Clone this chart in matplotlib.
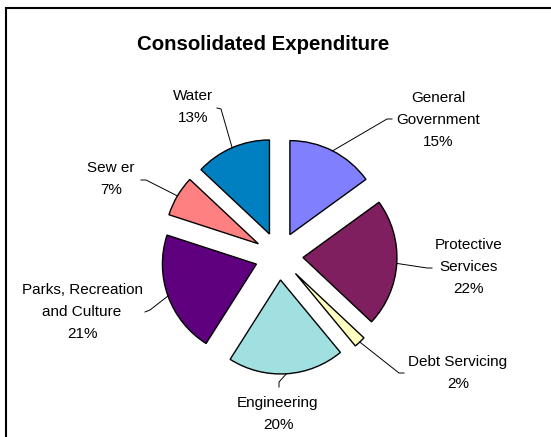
import matplotlib
matplotlib.use('Agg')
import numpy as np
import matplotlib.pyplot as plt

# Chart data
categories = ['General\nGovernment', 'Protective\nServices', 'Debt Servicing', 'Engineering',
              'Parks, Recreation\nand Culture', 'Sew er', 'Water']
shares = [15, 22, 2, 20, 21, 7, 13]
colors = ['#8080FF', '#7F1F5F', '#FFFFC0', '#A0E0E0', '#5F007F', '#FF8080', '#0080C0']
title = 'Consolidated Expenditure'

# Layout in pixels (x from left, y from top of the picture)
W, H = 551, 437
pie_center = (279, 256)
pie_radius = 94
explode_px = 24
label_xy = [(438, 120), (469, 267), (458, 373), (278, 414), (82, 312), (111, 179), (193, 107)]
leader_elbow = [(387, 119), (427, 268), (399, 373), (279, 382), (150, 310), (146, 180), (221, 109)]
leader_end = [(392, 119), (432, 268), (404, 373), (279, 387), (145, 312), (141, 180), (217, 108)]

plt.rcParams['font.family'] = ['Liberation Sans', 'DejaVu Sans']

fig = plt.figure(figsize=(W / 100, H / 100), dpi=100)
ax = fig.add_axes([0, 0, 1, 1])

# explode is in data units here (1 unit = 1 pixel)
wedges, _ = ax.pie(shares, colors=colors, startangle=90, counterclock=False,
                   radius=pie_radius, center=(pie_center[0], H - pie_center[1]),
                   explode=[explode_px] * len(shares),
                   wedgeprops=dict(edgecolor='black', linewidth=1.0), frame=True)
ax.set_xlim(0, W)
ax.set_ylim(0, H)
ax.set_aspect('equal')
ax.axis('off')

# Labels with leader lines from the middle of each arc
for w, cat, val, (lx, ly), (ex, ey), (fx, fy) in zip(wedges, categories, shares,
                                                     label_xy, leader_elbow, leader_end):
    mid = np.deg2rad((w.theta1 + w.theta2) / 2)
    px = w.center[0] + w.r * np.cos(mid)
    py = w.center[1] + w.r * np.sin(mid)
    ax.plot([px, ex, fx], [py, H - ey, H - fy], color='black', lw=0.7)
    ax.text(lx, H - ly, f'{cat}\n{val}%', ha='center', va='center',
            multialignment='center', fontsize=11, linespacing=1.72)

ax.text(263, H - 45, title, ha='center', va='center', fontsize=14.7, fontweight='bold')

# Chart area border (right and bottom edges fall outside the picture)
fig.add_artist(plt.Rectangle((6 / W, -0.1), 1.2, 1 - 7.5 / H + 0.1, fill=False,
                             lw=1.5, edgecolor='black', transform=fig.transFigure))

fig.savefig('out.png', dpi=100)
